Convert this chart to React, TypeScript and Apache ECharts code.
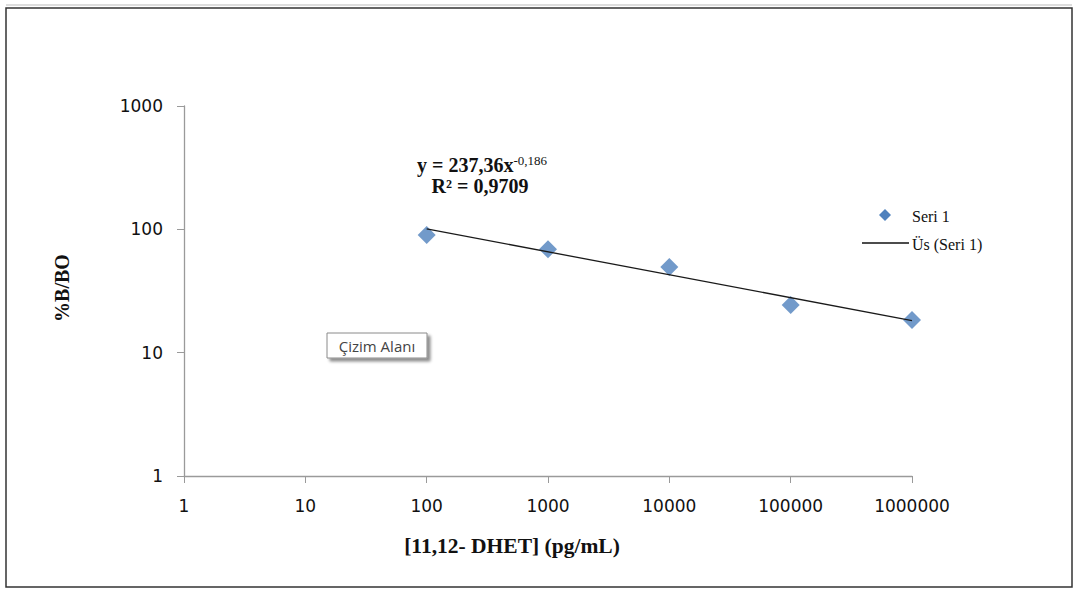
import React, { useEffect, useRef } from "react";
import * as echarts from "echarts";

const concentrations = [100, 1000, 10000, 100000, 1000000];
const percentBBO = [90, 69, 49.5, 24.4, 18.4];
const trendX = [100, 1000000];
const trendY = [100.8, 18.2];
const xAxisTitle = "[11,12- DHET] (pg/mL)";
const yAxisTitle = "%B/BO";
const seriesName = "Seri 1";
const trendName = "Üs (Seri 1)";
const equationMain = "y = 237,36x";
const equationExp = "-0,186";
const rSquared = "R² = 0,9709";
const plotAreaLabel = "Çizim Alanı";

export default function App() {
  const ref = useRef<HTMLDivElement>(null);
  useEffect(() => {
    if (!ref.current) return;
    const chart = echarts.init(ref.current, null, { renderer: "svg" });
    const serif = "'Liberation Serif', 'Times New Roman', serif";
    const sans = "'DejaVu Sans', Verdana, sans-serif";
    chart.setOption({
      animation: false,
      backgroundColor: "#ffffff",
      grid: { left: 184, right: 166, top: 106, bottom: 114, containLabel: false },
      xAxis: {
        type: "log",
        logBase: 10,
        min: 1,
        max: 1000000,
        axisLine: { show: true, lineStyle: { color: "#9a9a9a", width: 1.3 } },
        axisTick: { show: true, inside: false, length: 7, lineStyle: { color: "#9a9a9a" } },
        splitLine: { show: false },
        minorTick: { show: false },
        axisLabel: {
          margin: 21,
          fontFamily: sans,
          fontSize: 17,
          color: "#111",
          formatter: (v: number) => String(Math.round(v)),
        },
      },
      yAxis: {
        type: "log",
        logBase: 10,
        min: 1,
        max: 1000,
        axisLine: { show: true, lineStyle: { color: "#9a9a9a", width: 1.3 } },
        axisTick: { show: true, inside: false, length: 7, lineStyle: { color: "#9a9a9a" } },
        splitLine: { show: false },
        axisLabel: {
          margin: 21,
          fontFamily: sans,
          fontSize: 17,
          color: "#111",
          formatter: (v: number) => String(Math.round(v)),
        },
      },
      series: [
        {
          name: trendName,
          type: "line",
          data: trendX.map((x, i) => [x, trendY[i]]),
          symbol: "none",
          lineStyle: { color: "#1a1a1a", width: 1.3 },
          z: 3,
        },
        {
          name: seriesName,
          type: "scatter",
          data: concentrations.map((x, i) => [x, percentBBO[i]]),
          symbol: "diamond",
          symbolSize: [18, 18],
          itemStyle: { color: "#4F81BD" },
          z: 2,
        },
      ],
      graphic: [
        {
          type: "rect",
          shape: { x: 6, y: 8, width: 1066, height: 579 },
          style: { fill: "none", stroke: "#333", lineWidth: 1.5 },
          silent: true,
        },
        {
          type: "line",
          shape: { x1: 6, y1: 5, x2: 1072, y2: 5 },
          style: { stroke: "#bbb", lineWidth: 1 },
          silent: true,
        },
        {
          type: "text",
          x: 512,
          y: 546,
          style: {
            text: xAxisTitle,
            align: "center",
            verticalAlign: "middle",
            fontFamily: serif,
            fontWeight: "bold",
            fontSize: 21.5,
            fill: "#111",
          },
        },
        {
          type: "text",
          x: 62,
          y: 288,
          rotation: Math.PI / 2,
          style: {
            text: yAxisTitle,
            align: "center",
            verticalAlign: "middle",
            fontFamily: serif,
            fontWeight: "bold",
            fontSize: 20,
            fill: "#111",
          },
        },
        {
          type: "text",
          x: 482,
          y: 165,
          style: {
            text: "{m|" + equationMain + "}{e|" + equationExp + "}",
            align: "center",
            verticalAlign: "middle",
            rich: {
              m: { fontFamily: serif, fontWeight: "bold", fontSize: 20, fill: "#111" },
              e: { fontFamily: serif, fontWeight: "normal", fontSize: 13, fill: "#111", verticalAlign: "top", padding: [0, 0, 10, 0] },
            },
          },
        },
        {
          type: "text",
          x: 480,
          y: 186,
          style: {
            text: rSquared,
            align: "center",
            verticalAlign: "middle",
            fontFamily: serif,
            fontWeight: "bold",
            fontSize: 20,
            fill: "#111",
          },
        },
        {
          type: "polygon",
          shape: { points: [[885, 209], [891, 215], [885, 221], [879, 215]] },
          style: { fill: "#4F81BD" },
        },
        {
          type: "text",
          x: 912,
          y: 216,
          style: { text: seriesName, fontFamily: serif, fontSize: 16, fill: "#111", verticalAlign: "middle" },
        },
        {
          type: "line",
          shape: { x1: 862, y1: 243, x2: 909, y2: 243 },
          style: { stroke: "#111", lineWidth: 1.3 },
        },
        {
          type: "text",
          x: 912,
          y: 244,
          style: { text: trendName, fontFamily: serif, fontSize: 16, fill: "#111", verticalAlign: "middle" },
        },
        {
          type: "rect",
          shape: { x: 327, y: 333, width: 100, height: 25 },
          style: {
            fill: "#fff",
            stroke: "#8a8a8a",
            lineWidth: 1,
            shadowColor: "rgba(0,0,0,0.45)",
            shadowBlur: 3,
            shadowOffsetX: 3,
            shadowOffsetY: 3,
          },
        },
        {
          type: "text",
          x: 377,
          y: 346,
          style: {
            text: plotAreaLabel,
            align: "center",
            verticalAlign: "middle",
            fontFamily: "'Open Sans', 'Noto Sans', sans-serif",
            fontSize: 15,
            fill: "#444",
          },
        },
      ],
    });
    return () => chart.dispose();
  }, []);
  return (
    <div
      ref={ref}
      style={{ position: "absolute", left: 0, top: 0, width: 1078, height: 590 }}
    />
  );
}
